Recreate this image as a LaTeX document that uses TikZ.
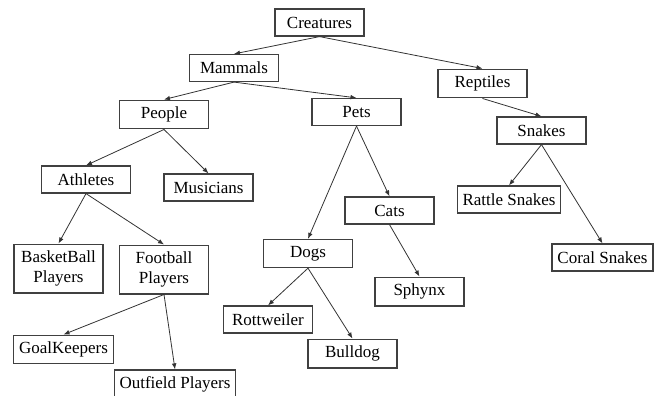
\documentclass[tikz,border=0pt]{standalone}
\usepackage{fontspec}
\setmainfont{Liberation Serif}
\usetikzlibrary{arrows.meta}
\tikzset{
	box/.style={draw=black!75, line width=0.9pt, rectangle, minimum width=66.75pt, minimum height=20.25pt, inner xsep=4pt, inner ysep=5pt, align=center, font=\fontsize{12.75}{15}\selectfont},
	arr/.style={draw=black!80, line width=0.6pt, -{Latex[length=4.5pt,width=3.5pt]}}
}
\begin{document}
\begin{tikzpicture}[x=0.75pt, y=-0.75pt]
		%%%%% START %%%%%
		
		\useasboundingbox (0, 0) rectangle (657, 396);
		
		\node[box] (creatures) at (319.5, 22.5) {Creatures};
		
		\node[box] (mammals) at (234, 68) {Mammals};
		\node[box] (reptiles) at (482.5, 83.5) {Reptiles};
		
		\node[box] (people) at (164, 114.5) {People};
		\node[box] (pets) at (356.5, 112) {Pets};
		\node[box] (snakes) at (541.5, 130.5) {Snakes};
		
		\node[box] (athletes) at (86, 179.5) {Athletes};
		\node[box] (musicians) at (208.5, 187.5) {Musicians};
		\node[box] (cats) at (389.5, 210.5) {Cats};
		\node[box] (rattle) at (509, 199.5) {Rattle Snakes};
		\node[box] (coral) at (602.5, 257.5) {Coral Snakes};
		
		\node[box] (dogs) at (308, 253.5) {Dogs};
		\node[box] (sphynx) at (419.5, 291.5) {Sphynx};
		\node[box] (basket) at (58.5, 268.5) {BasketBall\\Players};
		\node[box] (football) at (164, 269.5) {Football\\Players};
		
		\node[box] (rottweiler) at (268, 319.5) {Rottweiler};
		\node[box] (bulldog) at (352.5, 353.5) {Bulldog};
		\node[box] (goalkeepers) at (63.5, 349.5) {GoalKeepers};
		\node[box] (outfield) at (175, 384.5) {Outfield Players};
		
		\draw[arr] (creatures.south) -- (mammals.north);
		\draw[arr] (creatures.south) -- (reptiles.north);
		
		\draw[arr] (mammals.south) -- (people.north);
		\draw[arr] (mammals.south) -- (pets.north);
		\draw[arr] (reptiles.south) -- (snakes.north);
		
		\draw[arr] (people.south) -- (athletes.north);
		\draw[arr] (people.south) -- (musicians.north);
		\draw[arr] (pets.south) -- (dogs.north);
		\draw[arr] (pets.south) -- (cats.north);
		\draw[arr] (snakes.south) -- (rattle.north);
		\draw[arr] (snakes.south) -- (coral.north);
		
		\draw[arr] (athletes.south) -- (basket.north);
		\draw[arr] (athletes.south) -- (football.north);
		\draw[arr] (cats.south) -- (sphynx.north);
		\draw[arr] (dogs.south) -- (rottweiler.north);
		\draw[arr] (dogs.south) -- (bulldog.north);
		
		\draw[arr] (football.south) -- (goalkeepers.north);
		\draw[arr] (football.south) -- (outfield.north);
		
		%%%%% END %%%%%
	\end{tikzpicture}
\end{document}
